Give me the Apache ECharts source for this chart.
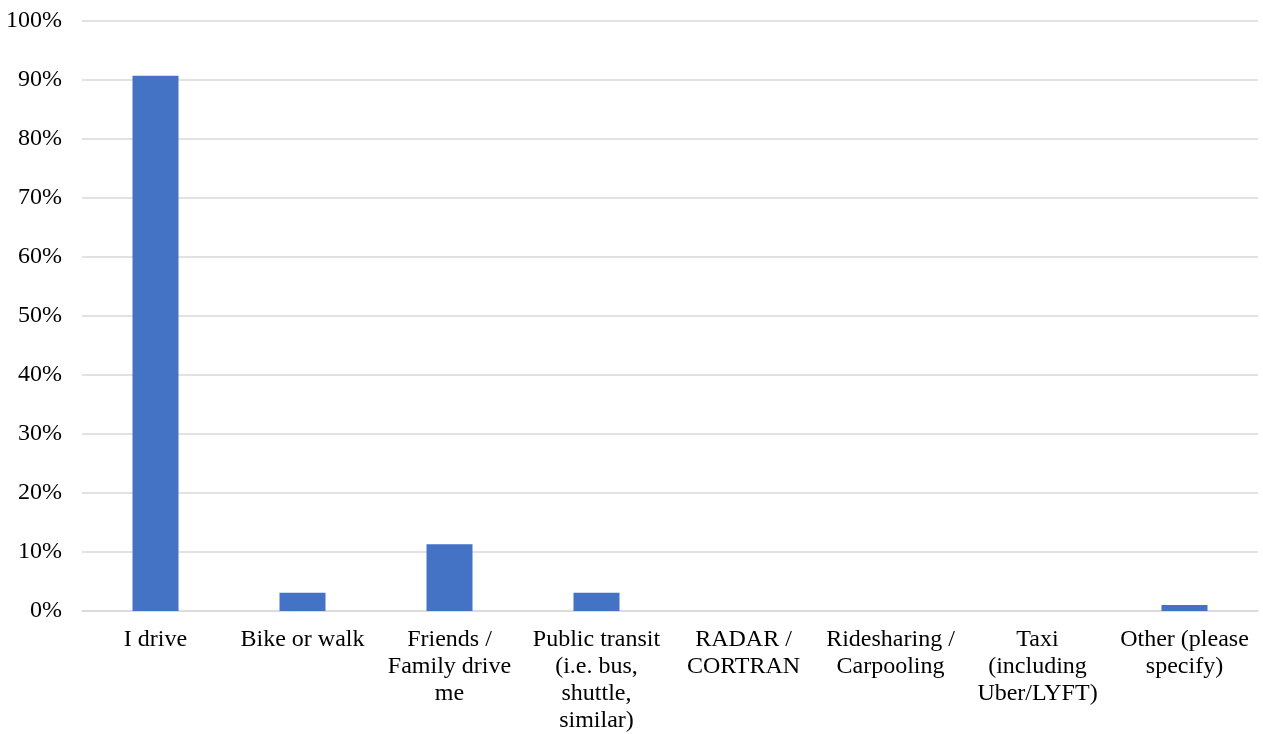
<!DOCTYPE html>
<html><head><meta charset="utf-8">
<script src="https://cdn.jsdelivr.net/npm/echarts@6/dist/echarts.min.js"></script>
<style>html,body{margin:0;padding:0;background:#fff}#c{width:1263px;height:734px}</style>
</head><body><div id="c"></div>
<script>
const categories = ["I drive", "Bike or walk", "Friends /\nFamily drive\nme", "Public transit\n(i.e. bus,\nshuttle,\nsimilar)", "RADAR /\nCORTRAN", "Ridesharing /\nCarpooling", "Taxi\n(including\nUber/LYFT)", "Other (please\nspecify)"];
const values = [90.7, 3.1, 11.3, 3.1, 0, 0, 0, 1.0];
const yTicks = {min: 0, max: 100, interval: 10};

const chart = echarts.init(document.getElementById('c'), null, {renderer: 'canvas'});
chart.setOption({
  animation: false,
  textStyle: {fontFamily: 'Liberation Serif'},
  grid: {left: 82, right: 5, top: 21, bottom: 123, containLabel: false},
  xAxis: {
    type: 'category', data: categories,
    axisLine: {show: true, lineStyle: {color: '#d9d9d9', width: 1.5}},
    axisTick: {show: false},
    axisLabel: {interval: 0, color: '#000', fontSize: 24, lineHeight: 27, margin: 15, fontFamily: 'Liberation Serif'}
  },
  yAxis: {
    type: 'value', min: yTicks.min, max: yTicks.max, interval: yTicks.interval,
    axisLine: {show: false}, axisTick: {show: false},
    splitLine: {lineStyle: {color: '#d9d9d9', width: 1.5}},
    axisLabel: {formatter: '{value}%', color: '#000', fontSize: 24, margin: 20, fontFamily: 'Liberation Serif'}
  },
  series: [{type: 'bar', data: values, barWidth: 46, itemStyle: {color: '#4472C4'}}]
});
</script></body></html>
